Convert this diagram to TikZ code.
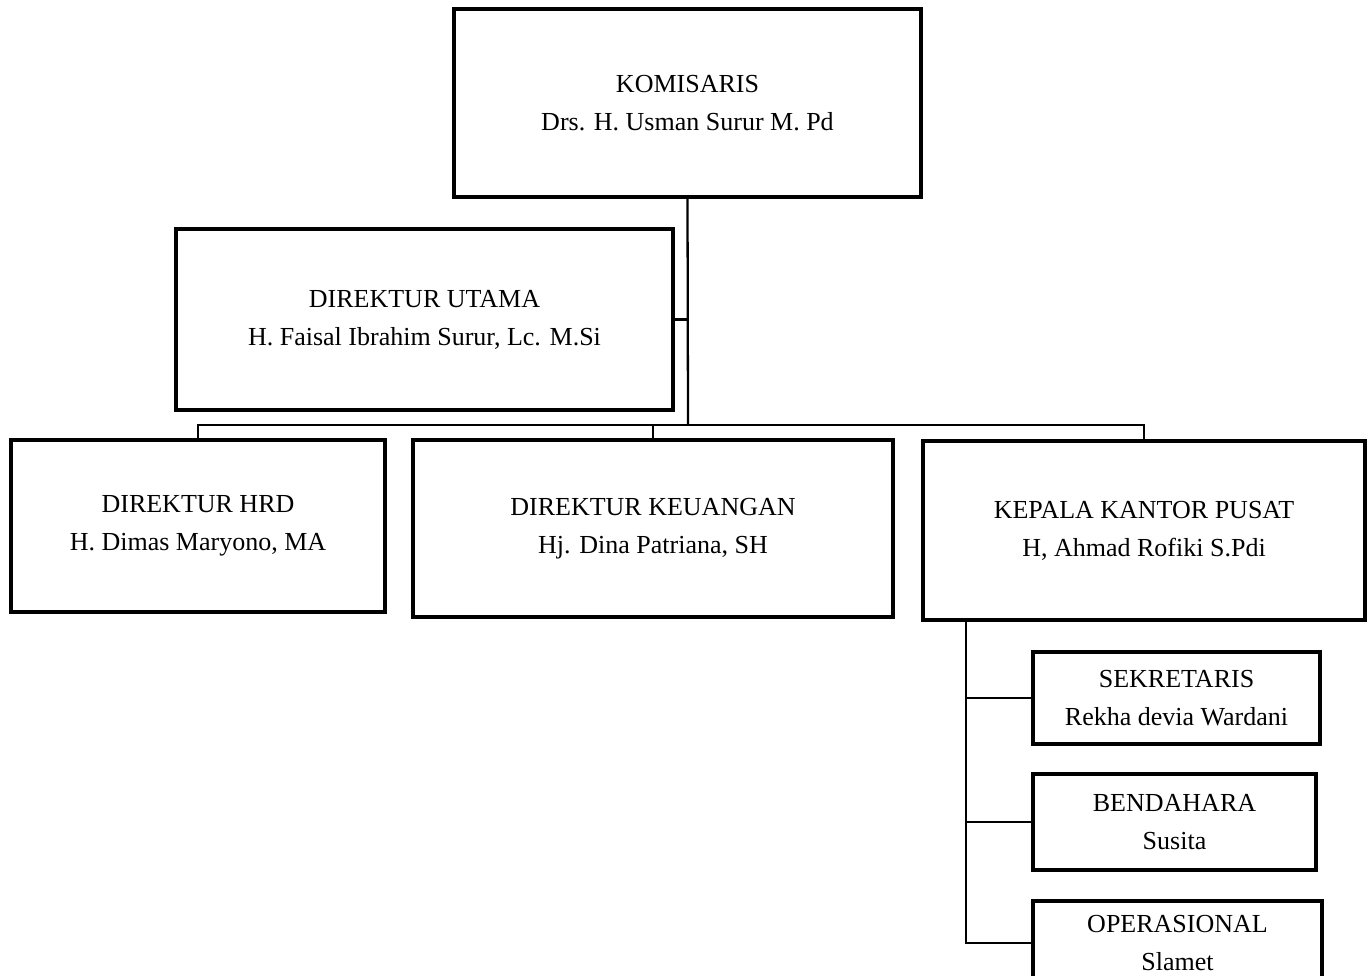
\documentclass[tikz,border=0pt]{standalone}
\usepackage{fontspec}
\setmainfont{Liberation Serif}
\usepackage{tikz}

\begin{document}
\begin{tikzpicture}[x=0.02cm, y=-0.02cm,
    box/.style={draw, line width=2.1pt, align=center, inner sep=0pt,
      font=\fontsize{14.8pt}{21.6pt}\selectfont},
    link/.style={line width=1.3pt}]

    \useasboundingbox (0,0) rectangle (1371,975);

    \node[box, minimum width=9.34cm, minimum height=3.76cm] (kom) at (687.5,103) {KOMISARIS\\Drs. H. Usman Surur M. Pd};
    \node[box, minimum width=9.94cm, minimum height=3.62cm] (utama) at (424.5,319.5) {DIREKTUR UTAMA\\H. Faisal Ibrahim Surur, Lc. M.Si};
    \node[box, minimum width=7.48cm, minimum height=3.44cm] (hrd) at (198,526) {DIREKTUR HRD\\H. Dimas Maryono, MA};
    \node[box, minimum width=9.6cm, minimum height=3.54cm] (keu) at (653,528.5) {DIREKTUR KEUANGAN\\Hj. Dina Patriana, SH};
    \node[box, minimum width=8.84cm, minimum height=3.58cm] (kep) at (1144,530.5) {KEPALA KANTOR PUSAT\\H, Ahmad Rofiki S.Pdi};
    \node[box, minimum width=5.74cm, minimum height=1.84cm] (sek) at (1176.5,698) {SEKRETARIS\\Rekha devia Wardani};
    \node[box, minimum width=5.66cm, minimum height=1.92cm] (ben) at (1174.5,822) {BENDAHARA\\Susita};
    \node[box, minimum width=5.78cm, minimum height=1.68cm] (ope) at (1177.5,943) {OPERASIONAL\\Slamet};

    \coordinate (bus) at (688,425);
    \coordinate (stem) at ([xshift=0.9cm]kep.south west);

    \draw[link] (kom.south) -- (bus);
    \draw[link] (kom.south |- utama.east) -- (utama.east);
    \draw[link] (hrd.north) |- (bus) -| (kep.north);
    \draw[link] (keu.north) -- (keu.north |- bus);

    \draw[link] (stem) |- (ope.west);
    \draw[link] (stem |- sek.west) -- (sek.west);
    \draw[link] (stem |- ben.west) -- (ben.west);

\end{tikzpicture}
\end{document}
